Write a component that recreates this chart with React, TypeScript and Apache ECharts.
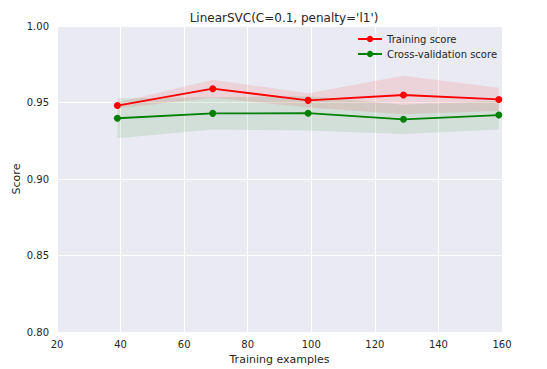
import React, { useEffect, useRef } from "react";
import * as echarts from "echarts";

const trainSizes = [39, 69, 99, 129, 159];
const trainMean = [0.948, 0.959, 0.9514, 0.9549, 0.952];
const trainStd = [0.002, 0.0059, 0.0046, 0.0126, 0.0076];
const cvMean = [0.9397, 0.9429, 0.943, 0.939, 0.9418];
const cvStd = [0.013, 0.0105, 0.0113, 0.0096, 0.0094];
const yTicks = [0.8, 0.85, 0.9, 0.95, 1.0];

const FONT = "DejaVu Sans";
const TXT = "#262626";

function bandSeries(mean: number[], std: number[], color: string) {
  const data = trainSizes.map((x, i) => [x, mean[i] - std[i], mean[i] + std[i]]);
  return {
    type: "custom",
    silent: true,
    z: 1,
    data,
    encode: { x: 0, y: [1, 2] },
    renderItem: (params: any, api: any) => {
      if (params.dataIndex !== 0) return null;
      const upper = data.map((d) => api.coord([d[0], d[2]]));
      const lower = data.map((d) => api.coord([d[0], d[1]])).reverse();
      return {
        type: "polygon",
        shape: { points: upper.concat(lower) },
        style: { fill: color },
      };
    },
  };
}

export default function App() {
  const ref = useRef<HTMLDivElement>(null);
  useEffect(() => {
    document.body.style.margin = "0";
    const chart = echarts.init(ref.current!, null, { renderer: "svg" });
    const pts = (m: number[]) => trainSizes.map((x, i) => [x, m[i]]);
    chart.setOption({
      animation: false,
      backgroundColor: "#ffffff",
      textStyle: { fontFamily: FONT },
      title: {
        text: "LinearSVC(C=0.1, penalty='l1')",
        left: 279,
        textAlign: "center",
        top: 7,
        textStyle: { fontFamily: FONT, fontSize: 12, fontWeight: "normal", color: TXT },
      },
      legend: {
        orient: "vertical",
        left: 352,
        top: 29,
        itemWidth: 24,
        itemHeight: 8,
        itemGap: 5,
        data: ["Training score", "Cross-validation score"],
        textStyle: { fontFamily: FONT, fontSize: 10, color: TXT },
      },
      graphic: [
        {
          type: "text",
          x: 16,
          y: 179,
          rotation: Math.PI / 2,
          style: {
            text: "Score",
            fontFamily: FONT,
            fontSize: 11,
            fill: TXT,
            align: "center",
            verticalAlign: "middle",
          },
        },
      ],
      grid: {
        left: 57, right: 45, top: 26, bottom: 37,
        backgroundColor: "#EAEAF2", show: true, borderWidth: 0,
        containLabel: false, outerBoundsMode: "none",
      },
      xAxis: {
        type: "value",
        min: 20,
        max: 160,
        interval: 20,
        name: "Training examples",
        nameLocation: "middle",
        nameGap: 22,
        nameTextStyle: { fontFamily: FONT, fontSize: 11, color: TXT },
        axisLine: { show: false },
        axisTick: { show: false },
        axisLabel: { fontFamily: FONT, fontSize: 10, color: TXT, margin: 7 },
        splitLine: { show: true, lineStyle: { color: "#ffffff", width: 1 } },
      },
      yAxis: {
        type: "value",
        min: yTicks[0],
        max: yTicks[yTicks.length - 1],
        interval: 0.05,
        axisLine: { show: false },
        axisTick: { show: false },
        axisLabel: { fontFamily: FONT, fontSize: 10, color: TXT, margin: 8, formatter: (v: number) => v.toFixed(2) },
        splitLine: { show: true, lineStyle: { color: "#ffffff", width: 1 } },
      },
      series: [
        bandSeries(trainMean, trainStd, "rgba(255,0,0,0.1)"),
        bandSeries(cvMean, cvStd, "rgba(0,128,0,0.1)"),
        {
          name: "Training score", type: "line", data: pts(trainMean), symbol: "circle", symbolSize: 7,
          color: "#ff0000", lineStyle: { width: 1.8, color: "#ff0000" }, itemStyle: { color: "#ff0000" }, z: 3,
        },
        {
          name: "Cross-validation score", type: "line", data: pts(cvMean), symbol: "circle", symbolSize: 7,
          color: "#008000", lineStyle: { width: 1.8, color: "#008000" }, itemStyle: { color: "#008000" }, z: 3,
        },
      ],
    });
    return () => chart.dispose();
  }, []);
  return <div ref={ref} style={{ width: 547, height: 369 }} />;
}
